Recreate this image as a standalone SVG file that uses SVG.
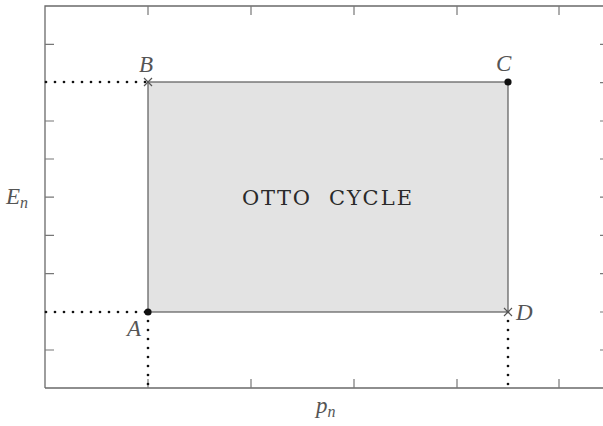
<svg xmlns="http://www.w3.org/2000/svg" width="603" height="426" viewBox="0 0 603 426">
<style>
.ax{stroke:#6a6a6a;stroke-width:1.3;fill:none}
.tk{stroke:#777;stroke-width:1.2;fill:none}
.dot{stroke:#111;stroke-width:2.7;stroke-linecap:round;stroke-dasharray:0 9;fill:none}
.lbl{font-family:"Liberation Serif","DejaVu Serif",serif;font-style:italic;font-size:23px;fill:#555}
.sub{font-family:"Liberation Serif","DejaVu Serif",serif;font-style:italic;font-size:16px;fill:#555}
.ttl{font-family:"DejaVu Serif","Liberation Serif",serif;font-size:21px;fill:#2a2a2a}
.cross{stroke:#555;stroke-width:1.2}
</style>
<rect width="603" height="426" fill="#fff"/>
<g id="axes">
<path class="ax" d="M45,388 V6 H606 M45,388 H606"/>
<path class="tk" d="M148,6v9 M251,6v9 M354,6v9 M457,6v9 M559,6v9 M148,388v-9 M251,388v-9 M354,388v-9 M457,388v-9 M559,388v-9"/>
<path class="tk" d="M45,44.4h9 M45,121h9 M45,159h9 M45,197.2h9 M45,235.4h9 M45,273.6h9 M45,350h9"/>
<path class="tk" stroke="#999" d="M600,44.4h4 M600,82.6h4 M600,121h4 M600,159h4 M600,197.2h4 M600,235.4h4 M600,273.6h4 M600,312h4 M600,350h4"/>
<text class="lbl" x="6" y="204">E<tspan class="sub" dy="4">n</tspan></text>
<text class="lbl" x="316" y="413">p<tspan class="sub" dy="4">n</tspan></text>
</g>
<g id="cycle">
<rect x="148" y="82" width="360" height="230" fill="#e3e3e3" stroke="#5a5a5a" stroke-width="1.2"/>
<text class="ttl"><tspan x="242" y="205" textLength="68" lengthAdjust="spacing">OTTO</tspan><tspan x="329" y="205" textLength="83" lengthAdjust="spacing">CYCLE</tspan></text>
</g>
<g id="connectors">
<path class="dot" d="M46,82 H148"/>
<path class="dot" d="M46,312 H148"/>
<path class="dot" d="M148,312 V388"/>
<path class="dot" d="M508,312 V388"/>
</g>
<g id="node-B">
<path class="cross" d="M144,78 l8,8 M152,78 l-8,8"/>
<text class="lbl" x="139" y="72">B</text>
</g>
<g id="node-C">
<circle cx="508" cy="82" r="3.6" fill="#111"/>
<text class="lbl" x="496" y="71">C</text>
</g>
<g id="node-D">
<path class="cross" d="M504,308 l8,8 M512,308 l-8,8"/>
<text class="lbl" x="516" y="320">D</text>
</g>
<g id="node-A">
<circle cx="148" cy="312" r="3.6" fill="#111"/>
<text class="lbl" x="127" y="336">A</text>
</g>
</svg>
